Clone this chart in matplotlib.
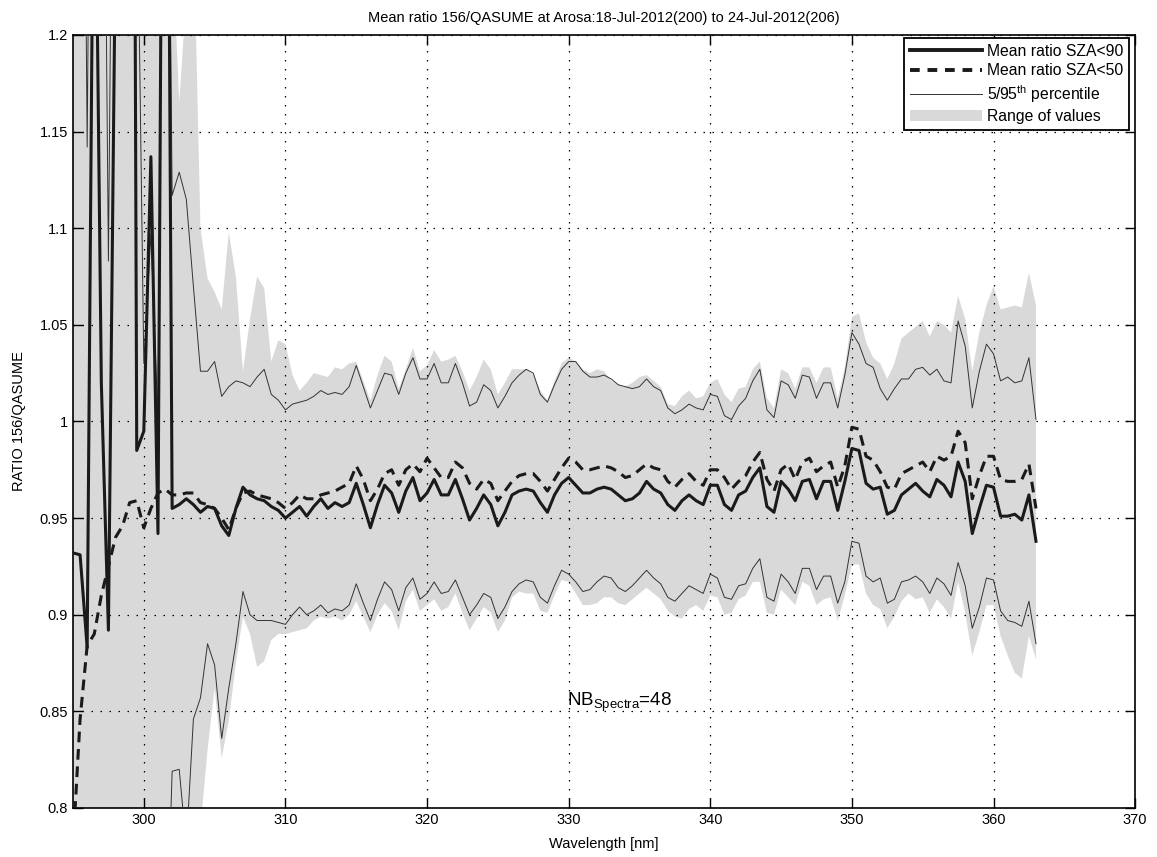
import numpy as np
import matplotlib
matplotlib.use("Agg")
import matplotlib.pyplot as plt
from matplotlib.patches import Patch
from matplotlib.lines import Line2D
from matplotlib.ticker import FuncFormatter

plt.rcParams.update({
    "font.family": ["Liberation Sans", "DejaVu Sans"],
    "mathtext.fontset": "custom",
    "mathtext.rm": "Liberation Sans",
    "mathtext.it": "Liberation Sans",
    "font.size": 10,
})

# wavelength grid, 0.5 nm steps from 295 to 363 nm
wavelength = np.arange(295.0, 363.25, 0.5)

# mean ratio, all spectra (SZA<90); rows of 5 nm
mean_sza90 = [
    0.932, 0.931, 0.883, 1.35, 1.02, 0.892, 1.25, 1.6, 2.0, 0.985,
    0.995, 1.137, 0.942, 1.6, 0.955, 0.957, 0.960, 0.957, 0.953, 0.956,
    0.955, 0.946, 0.941, 0.955, 0.966, 0.962, 0.960, 0.959, 0.956, 0.954,
    0.950, 0.953, 0.956, 0.951, 0.956, 0.960, 0.955, 0.958, 0.956, 0.958,
    0.968, 0.957, 0.945, 0.957, 0.967, 0.963, 0.953, 0.964, 0.971, 0.959,
    0.963, 0.970, 0.962, 0.962, 0.970, 0.960, 0.949, 0.955, 0.962, 0.957,
    0.946, 0.953, 0.962, 0.964, 0.965, 0.964, 0.958, 0.953, 0.962, 0.968,
    0.971, 0.967, 0.963, 0.963, 0.965, 0.966, 0.965, 0.962, 0.959, 0.960,
    0.963, 0.969, 0.965, 0.963, 0.957, 0.954, 0.959, 0.962, 0.959, 0.957,
    0.967, 0.967, 0.957, 0.954, 0.962, 0.964, 0.971, 0.976, 0.956, 0.953,
    0.969, 0.965, 0.959, 0.969, 0.970, 0.960, 0.969, 0.969, 0.954, 0.969,
    0.986, 0.985, 0.968, 0.965, 0.966, 0.952, 0.954, 0.962, 0.965, 0.968,
    0.964, 0.961, 0.970, 0.967, 0.961, 0.979, 0.969, 0.942, 0.955, 0.967,
    0.966, 0.951, 0.951, 0.952, 0.949, 0.962, 0.938,
]

# mean ratio, SZA<50
mean_sza50 = [
    0.78, 0.846, 0.884, 0.890, 0.910, 0.925, 0.940, 0.946, 0.958, 0.959,
    0.945, 0.955, 0.963, 0.965, 0.962, 0.962, 0.963, 0.963, 0.958, 0.957,
    0.955, 0.950, 0.944, 0.955, 0.963, 0.964, 0.962, 0.961, 0.960, 0.958,
    0.955, 0.958, 0.962, 0.960, 0.960, 0.962, 0.963, 0.964, 0.966, 0.968,
    0.977, 0.970, 0.959, 0.965, 0.973, 0.975, 0.967, 0.975, 0.978, 0.974,
    0.981, 0.976, 0.971, 0.971, 0.979, 0.976, 0.968, 0.965, 0.970, 0.968,
    0.959, 0.964, 0.969, 0.972, 0.973, 0.973, 0.969, 0.964, 0.970, 0.976,
    0.981, 0.979, 0.975, 0.975, 0.976, 0.977, 0.976, 0.974, 0.971, 0.972,
    0.975, 0.978, 0.976, 0.975, 0.969, 0.966, 0.970, 0.973, 0.969, 0.967,
    0.975, 0.975, 0.971, 0.965, 0.969, 0.972, 0.979, 0.984, 0.970, 0.964,
    0.975, 0.978, 0.970, 0.979, 0.981, 0.974, 0.977, 0.979, 0.966, 0.977,
    0.997, 0.996, 0.982, 0.980, 0.974, 0.966, 0.965, 0.973, 0.975, 0.977,
    0.979, 0.974, 0.982, 0.980, 0.982, 0.995, 0.989, 0.960, 0.972, 0.982,
    0.982, 0.970, 0.969, 0.969, 0.970, 0.978, 0.955,
]

# 95th percentile
pct95 = [
    1.4, 1.6, 1.142, 1.6, 1.5, 1.083, 1.5, 1.6, 1.6, 1.3,
    1.03, 1.097, 1.0, 1.5, 1.117, 1.129, 1.115, 1.07, 1.026, 1.026,
    1.031, 1.013, 1.018, 1.021, 1.020, 1.018, 1.023, 1.027, 1.014, 1.011,
    1.006, 1.009, 1.010, 1.011, 1.013, 1.016, 1.014, 1.015, 1.014, 1.018,
    1.029, 1.018, 1.007, 1.016, 1.025, 1.024, 1.014, 1.025, 1.033, 1.022,
    1.022, 1.030, 1.020, 1.020, 1.030, 1.020, 1.008, 1.010, 1.019, 1.016,
    1.007, 1.013, 1.020, 1.024, 1.027, 1.025, 1.014, 1.010, 1.019, 1.027,
    1.031, 1.031, 1.026, 1.023, 1.023, 1.024, 1.022, 1.019, 1.018, 1.017,
    1.018, 1.022, 1.018, 1.016, 1.007, 1.004, 1.006, 1.009, 1.007, 1.006,
    1.014, 1.013, 1.003, 1.001, 1.008, 1.012, 1.021, 1.027, 1.006, 1.002,
    1.021, 1.019, 1.012, 1.024, 1.023, 1.012, 1.020, 1.020, 1.007, 1.024,
    1.046, 1.040, 1.030, 1.028, 1.017, 1.011, 1.017, 1.022, 1.022, 1.027,
    1.028, 1.024, 1.027, 1.021, 1.020, 1.052, 1.039, 1.007, 1.026, 1.040,
    1.035, 1.021, 1.023, 1.020, 1.021, 1.033, 1.001,
]

# 5th percentile
pct5 = [
    0.7, 0.7, 0.7, 0.7, 0.7, 0.7, 0.7, 0.7, 0.7, 0.7,
    0.7, 0.7, 0.7, 0.7, 0.819, 0.820, 0.78, 0.846, 0.857, 0.885,
    0.874, 0.836, 0.862, 0.885, 0.912, 0.900, 0.897, 0.897, 0.897, 0.896,
    0.895, 0.900, 0.904, 0.900, 0.902, 0.905, 0.901, 0.903, 0.902, 0.905,
    0.916, 0.906, 0.897, 0.908, 0.917, 0.913, 0.902, 0.914, 0.919, 0.908,
    0.911, 0.917, 0.911, 0.912, 0.918, 0.909, 0.900, 0.905, 0.911, 0.909,
    0.898, 0.904, 0.912, 0.916, 0.918, 0.917, 0.909, 0.906, 0.915, 0.923,
    0.921, 0.917, 0.912, 0.913, 0.917, 0.920, 0.919, 0.914, 0.912, 0.915,
    0.919, 0.923, 0.919, 0.916, 0.909, 0.907, 0.911, 0.915, 0.913, 0.911,
    0.921, 0.919, 0.909, 0.908, 0.915, 0.916, 0.924, 0.929, 0.909, 0.907,
    0.921, 0.917, 0.911, 0.924, 0.924, 0.913, 0.920, 0.920, 0.906, 0.917,
    0.938, 0.937, 0.920, 0.917, 0.919, 0.906, 0.908, 0.917, 0.918, 0.920,
    0.917, 0.911, 0.919, 0.916, 0.910, 0.927, 0.915, 0.893, 0.904, 0.919,
    0.918, 0.902, 0.897, 0.896, 0.894, 0.907, 0.885,
]

# range of values (max / min)
range_max = [
    1.3, 1.3, 1.3, 1.3, 1.3, 1.3, 1.3, 1.3, 1.3, 1.3,
    1.3, 1.3, 1.3, 1.3, 1.25, 1.165, 1.22, 1.26, 1.10, 1.074,
    1.067, 1.058, 1.098, 1.075, 1.026, 1.053, 1.075, 1.069, 1.031, 1.042,
    1.040, 1.024, 1.016, 1.020, 1.025, 1.024, 1.023, 1.028, 1.027, 1.030,
    1.031, 1.021, 1.011, 1.024, 1.034, 1.031, 1.017, 1.027, 1.038, 1.026,
    1.029, 1.037, 1.031, 1.032, 1.034, 1.026, 1.016, 1.023, 1.032, 1.027,
    1.014, 1.020, 1.027, 1.027, 1.027, 1.024, 1.016, 1.011, 1.021, 1.030,
    1.033, 1.031, 1.027, 1.025, 1.027, 1.026, 1.021, 1.019, 1.018, 1.020,
    1.023, 1.024, 1.021, 1.018, 1.009, 1.008, 1.013, 1.016, 1.012, 1.013,
    1.020, 1.022, 1.014, 1.010, 1.017, 1.018, 1.027, 1.031, 1.012, 1.007,
    1.027, 1.025, 1.017, 1.028, 1.028, 1.020, 1.028, 1.028, 1.012, 1.028,
    1.054, 1.056, 1.041, 1.033, 1.030, 1.022, 1.030, 1.043, 1.046, 1.049,
    1.052, 1.044, 1.052, 1.050, 1.046, 1.065, 1.053, 1.026, 1.046, 1.060,
    1.070, 1.058, 1.059, 1.060, 1.059, 1.077, 1.060,
]

range_min = [
    0.7, 0.7, 0.7, 0.7, 0.7, 0.7, 0.7, 0.7, 0.7, 0.7,
    0.7, 0.7, 0.7, 0.7, 0.7, 0.7, 0.7, 0.7, 0.79, 0.83,
    0.862, 0.826, 0.845, 0.875, 0.899, 0.890, 0.873, 0.876, 0.887, 0.890,
    0.890, 0.891, 0.892, 0.893, 0.897, 0.899, 0.898, 0.899, 0.897, 0.900,
    0.907, 0.899, 0.891, 0.900, 0.906, 0.902, 0.892, 0.907, 0.913, 0.902,
    0.905, 0.908, 0.902, 0.904, 0.911, 0.901, 0.892, 0.898, 0.904, 0.901,
    0.891, 0.897, 0.909, 0.912, 0.911, 0.911, 0.902, 0.901, 0.910, 0.918,
    0.917, 0.911, 0.905, 0.905, 0.906, 0.909, 0.909, 0.906, 0.905, 0.908,
    0.911, 0.914, 0.911, 0.908, 0.902, 0.899, 0.898, 0.903, 0.905, 0.902,
    0.910, 0.909, 0.900, 0.901, 0.908, 0.910, 0.917, 0.917, 0.901, 0.900,
    0.913, 0.909, 0.905, 0.917, 0.915, 0.905, 0.908, 0.909, 0.897, 0.910,
    0.926, 0.926, 0.911, 0.905, 0.903, 0.893, 0.899, 0.907, 0.911, 0.908,
    0.909, 0.901, 0.908, 0.904, 0.898, 0.917, 0.901, 0.879, 0.891, 0.905,
    0.905, 0.889, 0.879, 0.870, 0.867, 0.889, 0.877,
]

n_spectra = 48

fig = plt.figure(figsize=(11.57, 8.57), dpi=100)
ax = fig.add_axes([0.0631, 0.0572, 0.918, 0.902])

gray = "#d9d9d9"
ax.fill_between(wavelength, range_min, range_max, color=gray, lw=0, zorder=1)
ax.plot(wavelength, pct95, color="#333333", lw=0.7, zorder=3)
ax.plot(wavelength, pct5, color="#333333", lw=0.7, zorder=3)
ax.plot(wavelength, mean_sza50, color="#1a1a1a", lw=2.2, ls=(0, (3.5, 2.2)), zorder=4)
ax.plot(wavelength, mean_sza90, color="#1a1a1a", lw=2.2, zorder=5)

ax.set_xlim(295, 370)
ax.set_ylim(0.8, 1.2)
ax.set_xticks(np.arange(300, 371, 10))
ax.set_yticks(np.arange(0.8, 1.201, 0.05))
ax.yaxis.set_major_formatter(FuncFormatter(lambda v, p: "%g" % round(v, 2)))
ax.set_axisbelow("line")
ax.grid(True, color="black", ls=(0, (1.2, 6)), lw=0.9)
ax.tick_params(direction="in", top=True, right=True, length=7, width=1.0,
               labelsize=10.5)
for s in ax.spines.values():
    s.set_linewidth(1.2)

ax.set_xlabel("Wavelength [nm]", fontsize=10.5, labelpad=7)
ax.set_ylabel("RATIO 156/QASUME", fontsize=10.5, labelpad=10)
ax.set_title("Mean ratio 156/QASUME at Arosa:18-Jul-2012(200) to 24-Jul-2012(206)",
             fontsize=10.5, pad=9)

ax.text(329.9, 0.853, r"NB$_{\rm Spectra}$=%d" % n_spectra, fontsize=13.5)

handles = [
    Line2D([], [], color="#1a1a1a", lw=2.8),
    Line2D([], [], color="#1a1a1a", lw=2.8, ls=(0, (2.5, 2))),
    Line2D([], [], color="#333333", lw=0.7),
    Patch(facecolor=gray, edgecolor="none"),
]
labels = ["Mean ratio SZA<90", "Mean ratio SZA<50",
          r"5/95$^{\rm th}$ percentile", "Range of values"]
leg = ax.legend(handles, labels, loc="upper right", bbox_to_anchor=(0.994, 0.996),
                borderaxespad=0, fancybox=False, framealpha=1, edgecolor="black",
                fontsize=11.3, handlelength=4.6, handletextpad=0.3,
                labelspacing=0.3, borderpad=0.35)
leg.get_frame().set_linewidth(1.3)

fig.savefig("out.png", dpi=100, facecolor="white")
